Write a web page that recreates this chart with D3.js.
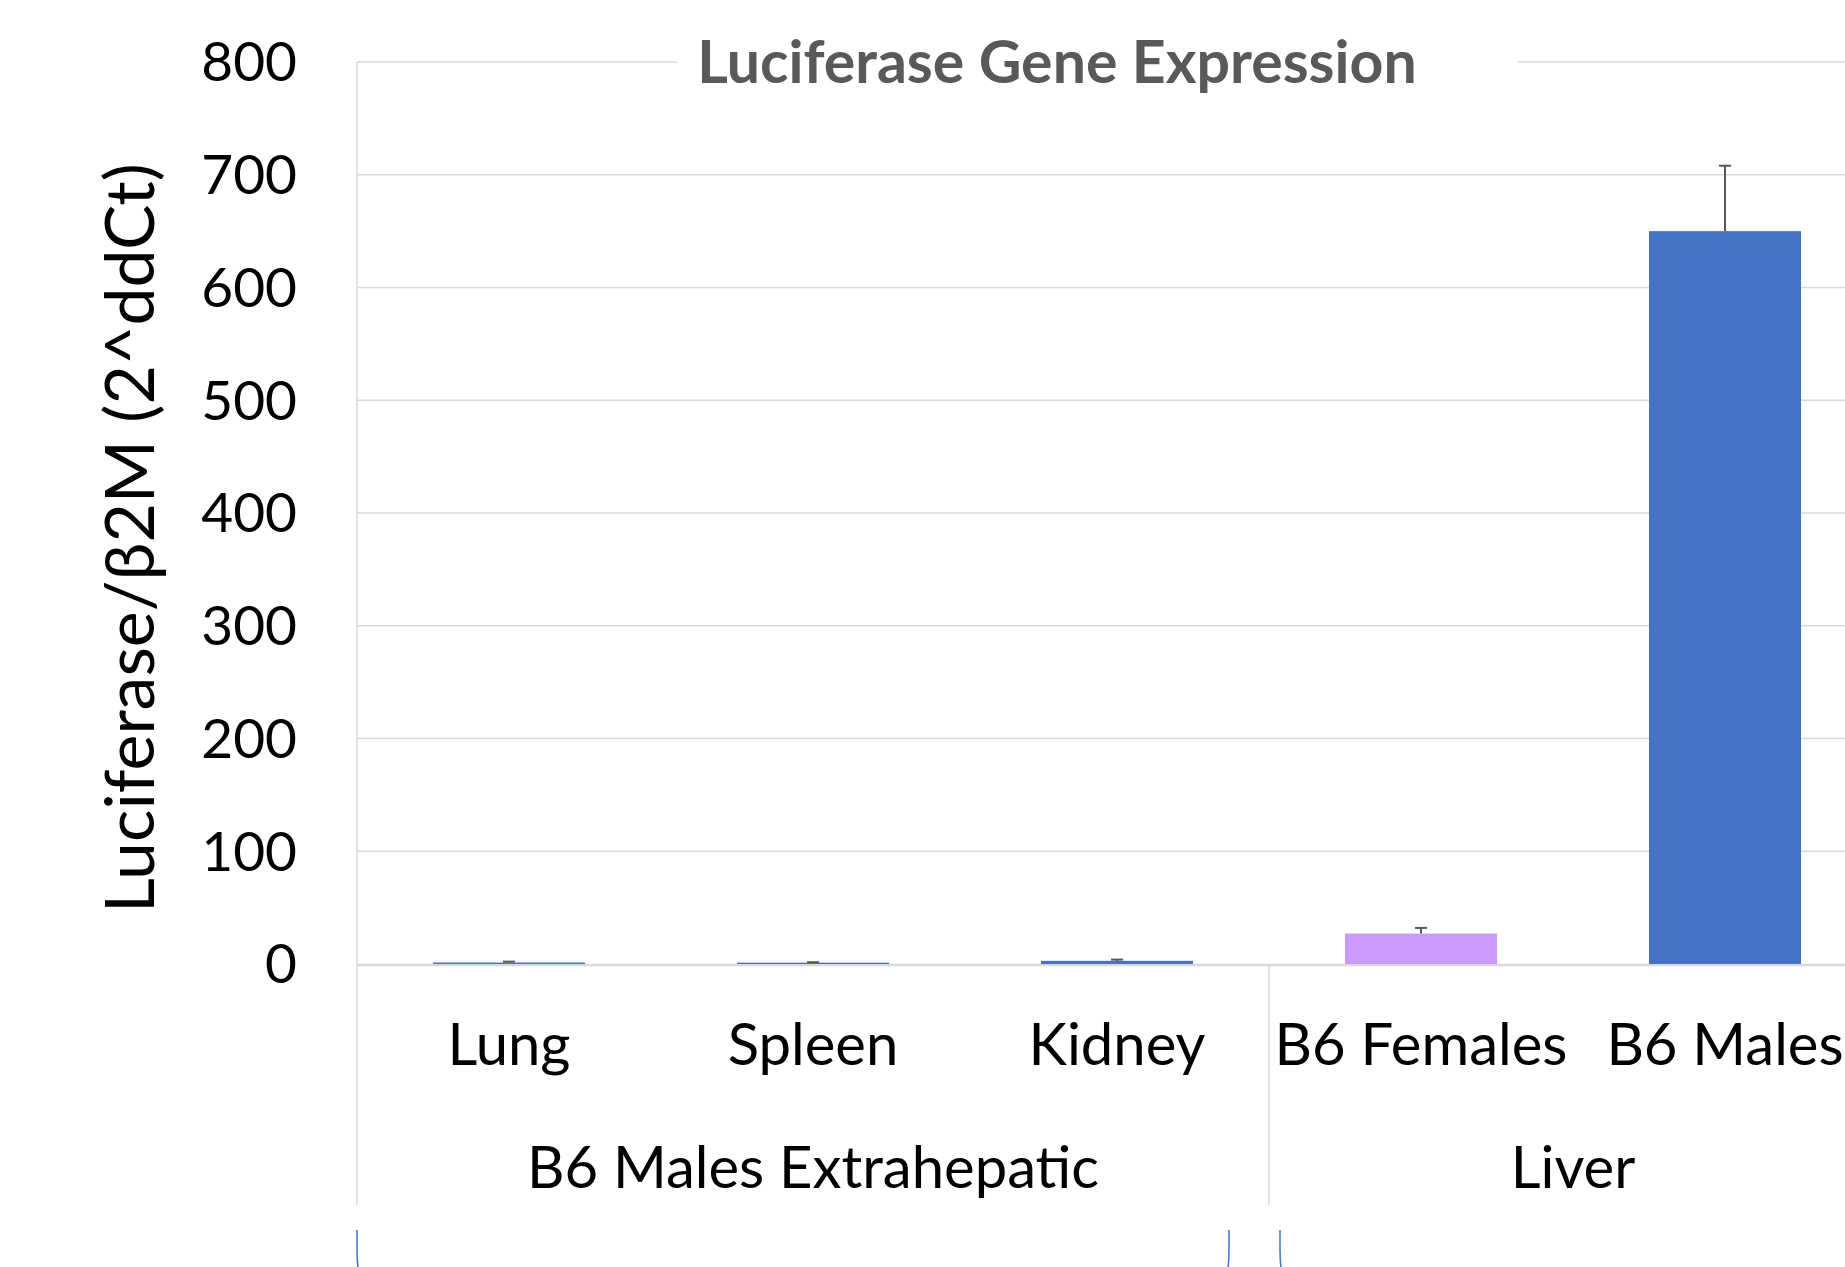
<!DOCTYPE html>
<html lang="en">
<head>
<meta charset="UTF-8">
<title>Luciferase Gene Expression</title>
<script src="https://cdn.jsdelivr.net/npm/d3@7"></script>
<style>
    body { margin: 0; background: #fff; }
    svg { display: block; font-family: Lato, "Open Sans", sans-serif; }
</style>
</head>
<body>
<svg id="chart" width="1845" height="1267"></svg>
<script>
// data
const categories = ["Lung", "Spleen", "Kidney", "B6 Females", "B6 Males"];
const values = [1.3, 1.2, 2.8, 27, 650];
const errors = [0.8, 0.4, 1.1, 5, 58];
const barColors = ["#4472C4", "#4472C4", "#4472C4", "#CC99FF", "#4472C4"];
const groupNames = ["B6 Males Extrahepatic", "Liver"];
const groupSizes = [3, 2];
const yTicks = [0, 100, 200, 300, 400, 500, 600, 700, 800];

const svg = d3.select("#chart");
const plotLeft = 357, plotRight = 1877, plotTop = 62, plotBottom = 964, axisBottom = 1205;
const gridColor = "#d9d9d9";

const x = d3.scaleBand()
    .domain(categories)
    .range([plotLeft, plotRight])
    .paddingInner(0.5)
    .paddingOuter(0.25);
const step = x.step();
const bandStart = i => plotLeft + i * step;   // category slot edges

const y = d3.scaleLinear().domain([0, 800]).range([plotBottom, plotTop]);

// gridlines
svg.append("g").selectAll("line")
    .data(yTicks.filter(d => d > 0))
    .join("line")
    .attr("x1", plotLeft).attr("x2", plotRight)
    .attr("y1", d => y(d)).attr("y2", d => y(d))
    .attr("stroke", gridColor).attr("stroke-width", 1.5);

// baseline (behind the bars)
svg.append("line")
    .attr("x1", plotLeft).attr("x2", plotRight)
    .attr("y1", y(0) + 1).attr("y2", y(0) + 1)
    .attr("stroke", gridColor).attr("stroke-width", 2.5);

// y tick labels
svg.append("g").selectAll("text")
    .data(yTicks)
    .join("text")
    .attr("x", 297)
    .attr("y", d => y(d))
    .attr("dy", "0.35em")
    .attr("text-anchor", "end")
    .attr("font-size", 55)
    .attr("fill", "#000")
    .text(d => d);

// title with white knock-out behind it
svg.append("rect")
    .attr("x", 677).attr("y", y(800) - 30)
    .attr("width", 841).attr("height", 60)
    .attr("fill", "#fff");
svg.append("text")
    .attr("x", 1057).attr("y", y(800))
    .attr("dy", "0.35em")
    .attr("text-anchor", "middle")
    .attr("font-size", 59)
    .attr("font-weight", "bold")
    .attr("fill", "#595959")
    .text("Luciferase Gene Expression");

// y axis title
svg.append("text")
    .attr("transform", `translate(130,${y(400) + 25}) rotate(-90)`)
    .attr("dy", "0.35em")
    .attr("text-anchor", "middle")
    .attr("font-size", 68)
    .attr("fill", "#000")
    .text("Luciferase/\u03B22M (2^ddCt)");

// left border and group dividers
let acc = 0;
const dividers = [0];
groupSizes.forEach(n => { acc += n; dividers.push(acc); });
svg.append("line")
    .attr("x1", plotLeft).attr("x2", plotLeft)
    .attr("y1", plotTop).attr("y2", axisBottom)
    .attr("stroke", gridColor).attr("stroke-width", 1.5);
svg.append("g").selectAll("line")
    .data(dividers.slice(1, -1))
    .join("line")
    .attr("x1", d => bandStart(d)).attr("x2", d => bandStart(d))
    .attr("y1", plotBottom).attr("y2", axisBottom)
    .attr("stroke", gridColor).attr("stroke-width", 1.5);

// bars
svg.append("g").selectAll("rect")
    .data(categories)
    .join("rect")
    .attr("x", d => x(d))
    .attr("y", (d, i) => y(values[i]))
    .attr("width", x.bandwidth())
    .attr("height", (d, i) => y(0) - y(values[i]))
    .attr("fill", (d, i) => barColors[i]);

// error bars
const eb = svg.append("g").attr("stroke", "#595959").attr("stroke-width", 2);
categories.forEach((c, i) => {
    const cx = x(c) + x.bandwidth() / 2;
    eb.append("line")
        .attr("x1", cx).attr("x2", cx)
        .attr("y1", y(values[i])).attr("y2", y(values[i] + errors[i]));
    eb.append("line")
        .attr("x1", cx - 6).attr("x2", cx + 6)
        .attr("y1", y(values[i] + errors[i])).attr("y2", y(values[i] + errors[i]));
});

// category labels
svg.append("g").selectAll("text")
    .data(categories)
    .join("text")
    .attr("x", d => x(d) + x.bandwidth() / 2)
    .attr("y", 1065)
    .attr("text-anchor", "middle")
    .attr("font-size", 58)
    .attr("fill", "#000")
    .text(d => d);

// group labels
svg.append("g").selectAll("text")
    .data(groupNames)
    .join("text")
    .attr("x", (d, i) => (bandStart(dividers[i]) + bandStart(dividers[i + 1])) / 2)
    .attr("y", 1188)
    .attr("text-anchor", "middle")
    .attr("font-size", 58)
    .attr("fill", "#000")
    .text(d => d);

// blue bracket edges peeking in at the bottom
const brackets = [
    { x: bandStart(dividers[0]), dir: 1 },
    { x: bandStart(dividers[1]) - 40, dir: -1 },
    { x: bandStart(dividers[1]) + 11, dir: 1 }
];
svg.append("g").selectAll("path")
    .data(brackets)
    .join("path")
    .attr("d", d => `M${d.x},1230 L${d.x},1250 Q${d.x},1267 ${d.x + d.dir * 3},1280`)
    .attr("fill", "none")
    .attr("stroke", "#4472C4")
    .attr("stroke-width", 1.5);
</script>
</body>
</html>
